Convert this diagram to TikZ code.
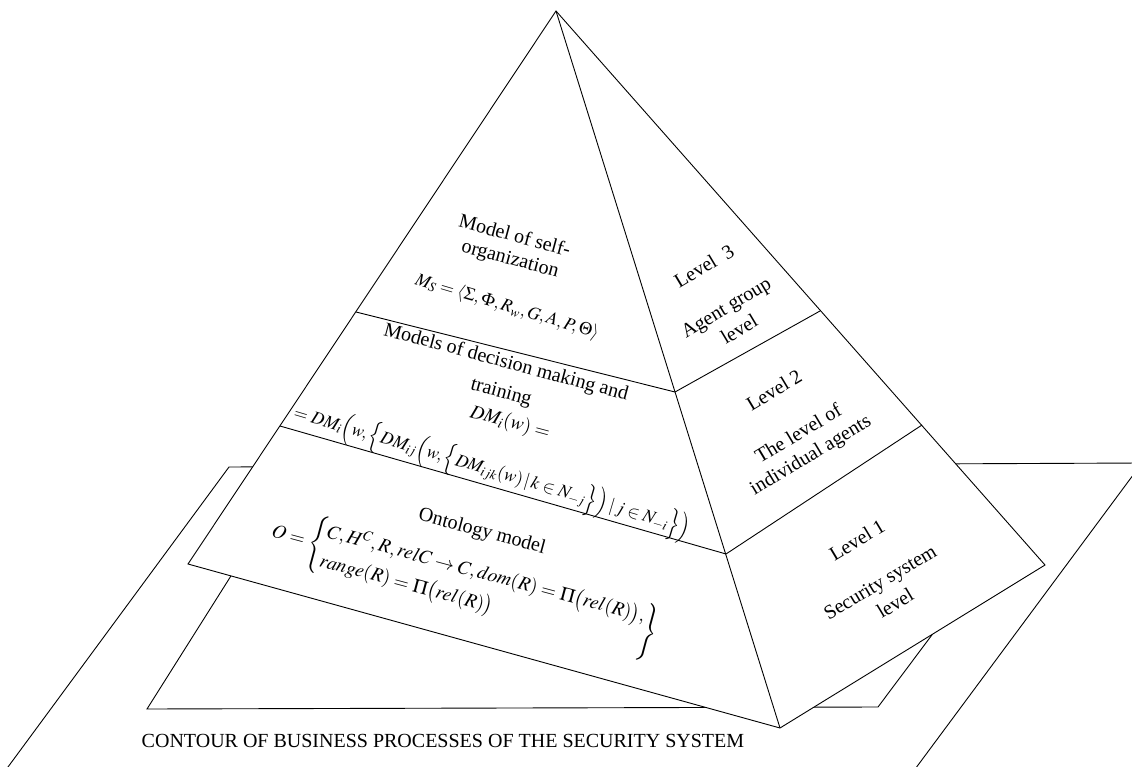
\documentclass[tikz,border=0pt]{standalone}
\usepackage{mathptmx}
\usepackage{fontspec}
\setmainfont{Liberation Serif}
\begin{document}
\begin{tikzpicture}[x=1pt,y=-1pt,
  every node/.style={font=\fontsize{20}{23}\selectfont, inner sep=0pt},
  formula/.style={font=\fontsize{18}{21}\selectfont},
  bigformula/.style={font=\fontsize{19.5}{23}\selectfont},
  edge/.style={line width=0.9pt, line join=miter},
  lefttext/.style={rotate=-15},
  righttext/.style={rotate=31}]
\useasboundingbox (0,0) rectangle (1132,767);
% coordinates
\coordinate (A) at (556,11);
\coordinate (L) at (188,564);
\coordinate (F) at (780,728);
\coordinate (R) at (1045,565);
\coordinate (L32) at (356,312);
\coordinate (C32) at (675,392);
\coordinate (R32) at (820,311);
\coordinate (L21) at (280,426);
\coordinate (C21) at (726,554);
\coordinate (R21) at (922,425);
% big contour plane
\coordinate (BTL) at (229,467);
\coordinate (BTR) at (1142,463);
\coordinate (BBL) at (-90,900);
\coordinate (BBR) at (818,900);
\begin{scope}
\clip (0,0) rectangle (1132,767);
\draw[edge] (BBL) -- (BTL) -- (BTR) -- (BBR);
\end{scope}
% inner plane
\coordinate (ITL) at (241,560);
\coordinate (IBL) at (147,709);
\coordinate (IBR) at (878,707);
\coordinate (ITR) at (988,560);
\draw[edge, fill=white] (ITL) -- (IBL) -- (IBR) -- (ITR) -- cycle;
% pyramid
\draw[edge, fill=white] (A) -- (L) -- (F) -- (R) -- cycle;
\draw[edge] (A) -- (F);
\draw[edge] (L32) -- (C32) -- (R32);
\draw[edge] (L21) -- (C21) -- (R21);
% left face texts
\node[lefttext] (t3a) at (515,235) {Model of self-};
\node[lefttext] (t3b) at (510,260) {organization};
\node[lefttext, formula, rotate=-1.5] (t3c) at (507,307) {$M_S=\langle\Sigma,\Phi,R_w,G,A,P,\Theta\rangle$};
\node[lefttext] (t2a) at (506,363) {Models of decision making and};
\node[lefttext] (t2b) at (501,393) {training};
\node[lefttext, bigformula] (t2c) at (510,423) {$DM_i(w)=$};
\node[lefttext, formula, rotate=-1.5, anchor=west] (t2d) at (294,413) {$=DM_i\Bigl(w,\Bigl\{DM_{ij}\Bigl(w,\Bigl\{DM_{ijk}(w)\,|\,k\in N_{-j}\Bigr\}\Bigr)\,|\,j\in N_{-i}\Bigr\}\Bigr)$};
\node[lefttext] (t1a) at (482,532) {Ontology model};
\node[lefttext, bigformula, anchor=west] (t1b) at (272,532) {\renewcommand{\arraystretch}{1.3}$O=\left\{\begin{array}{@{}l@{}}C,H^C,R,relC\to C,dom(R)=\Pi\bigl(rel(R)\bigr),\\ range(R)=\Pi\bigl(rel(R)\bigr)\end{array}\right\}$};
% right face texts
\node[righttext] (r3a) at (704,266) {Level\ \ 3};
\node[righttext] (r3b) at (727,309) {Agent group};
\node[righttext] (r3c) at (739,329) {level};
\node[righttext] (r2a) at (774,390) {Level 2};
\node[righttext] (r2b) at (798,433) {The level of};
\node[righttext] (r2c) at (811,456) {individual agents};
\node[righttext] (r1a) at (857,540) {Level 1};
\node[righttext] (r1b) at (881,584) {Security system};
\node[righttext] (r1c) at (895,603) {level};
% caption
\node[anchor=base] (cap) at (443,747) {CONTOUR OF BUSINESS PROCESSES OF THE SECURITY SYSTEM};
\end{tikzpicture}
\end{document}
